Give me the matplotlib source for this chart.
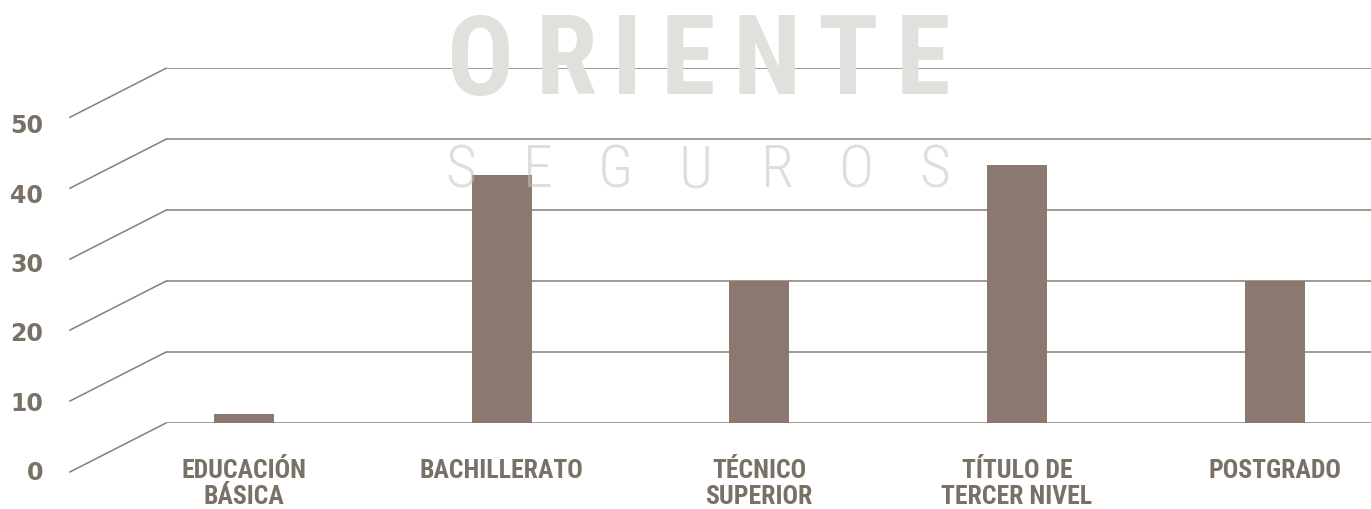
import matplotlib
matplotlib.use("Agg")
import matplotlib.pyplot as plt
from matplotlib import font_manager as fm

# ---------------- data ----------------
categories = ["EDUCACIÓN\nBÁSICA", "BACHILLERATO", "TÉCNICO\nSUPERIOR",
              "TÍTULO DE\nTERCER NIVEL", "POSTGRADO"]
values = [1.3, 35, 20, 36.3, 20]
y_ticks = [0, 10, 20, 30, 40, 50]
watermark_top = "ORIENTE"
watermark_bottom = "SEGUROS"


def pick(fams, weight="normal"):
    for f in fams:
        try:
            fm.findfont(fm.FontProperties(family=f, weight=weight),
                        fallback_to_default=False)
            return f
        except Exception:
            pass
    return "DejaVu Sans"


narrow = pick(["Roboto Condensed", "Liberation Sans Narrow",
               "DejaVu Sans Condensed", "Liberation Sans"], "bold")

W, H = 1371, 509
fig = plt.figure(figsize=(W / 100, H / 100), dpi=100)
fig.patch.set_facecolor("white")

TXT = "#7a7166"
GRID = "#8d7c74"
BAR = "#8b786f"

# back wall axes
left_px, right_px, top_px, bot_px = 166, 1371, 68.3, 423
ax = fig.add_axes([left_px / W, 1 - bot_px / H,
                   (right_px - left_px) / W, (bot_px - top_px) / H])
ax.set_facecolor("none")
c0, step = 243.9, 257.7
ax.set_xlim((left_px - c0) / step, (right_px - c0) / step)
ax.set_ylim(0, 50)
for s in ax.spines.values():
    s.set_visible(False)
ax.set_yticks([])

x = list(range(len(categories)))
ax.bar(x, values, width=0.233, color=BAR, zorder=3)

# gridlines with perspective diagonals
x0 = ax.get_xlim()[0]
dx = (70 - left_px) / step
dy = -6.9
for v in y_ticks:
    ax.axhline(v, color=GRID, lw=1.1, zorder=2)
    ax.plot([x0, x0 + dx], [v, v + dy], color=GRID, lw=1.1,
            clip_on=False, zorder=2)
    ax.text((43 - c0) / step, 0.977 * v - 7.05, str(v), ha="right", va="center",
            fontsize=17, fontweight="bold", color=TXT,
            family="DejaVu Sans", clip_on=False)

ax.set_xticks(x)
ax.set_xticklabels(categories, fontsize=18.5, fontweight="bold", color=TXT,
                   family=narrow, linespacing=1.08)
ax.tick_params(axis="x", length=0, pad=26)

# watermark
top_centers = [480.5, 566.5, 627, 688, 767, 847, 923]
for ch, cx in zip(watermark_top, top_centers):
    fig.text(cx / W, 1 - 64 / H, ch, ha="center", va="center",
             fontsize=80, fontweight="bold", family=narrow,
             color="#e1e0dc", zorder=0)
bot_centers = [460.5, 537.5, 615, 695.5, 777, 855.5, 935]
for ch, cx in zip(watermark_bottom, bot_centers):
    fig.text(cx / W, 1 - 171 / H, ch, ha="center", va="center",
             fontsize=43, fontweight="light", family=narrow,
             color="#c4c4c4", alpha=0.55, zorder=5)

fig.savefig("out.png", dpi=100)
